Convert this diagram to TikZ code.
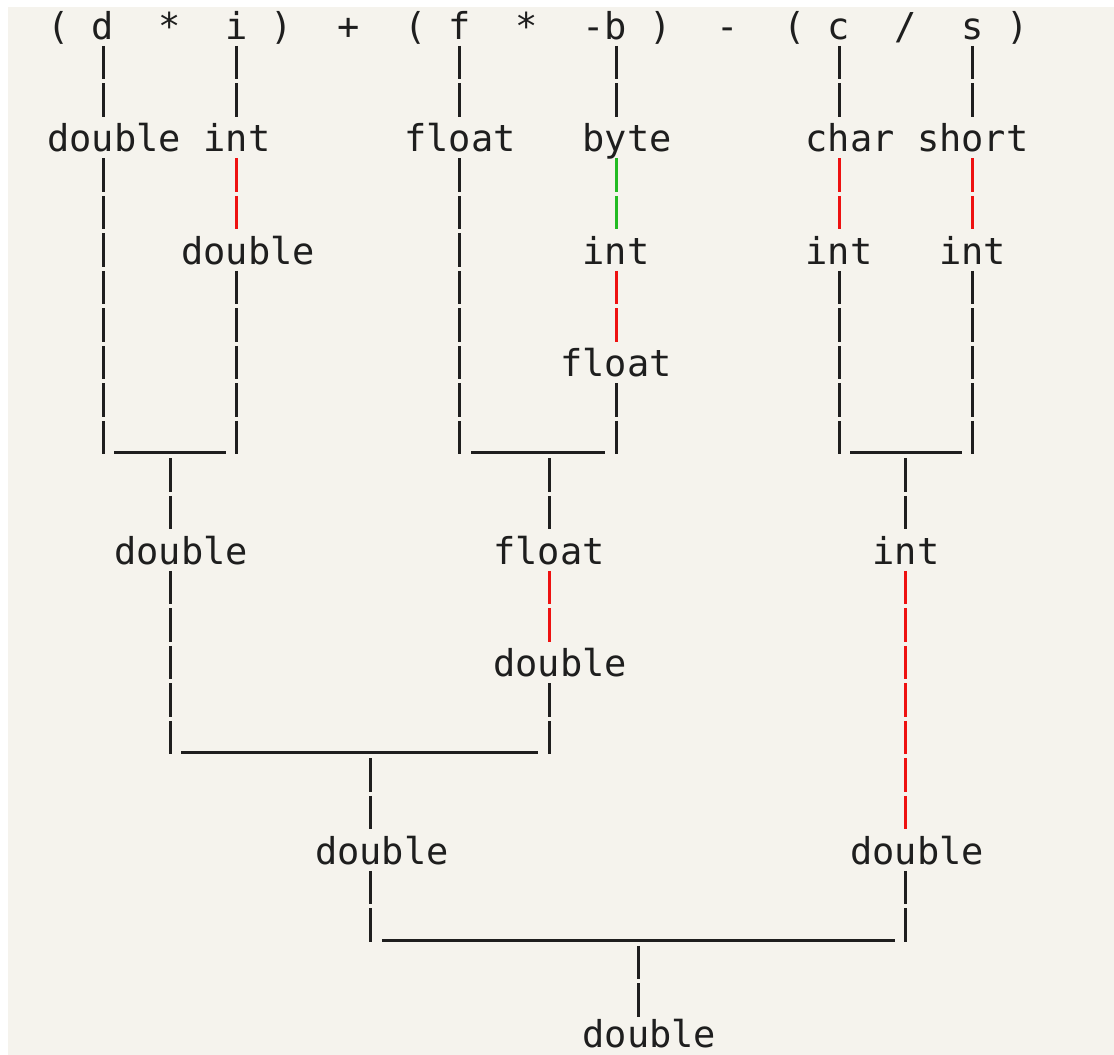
\documentclass[tikz,border=0pt]{standalone}
\usepackage{fontspec}
\usetikzlibrary{calc}
\newfontfamily\ascfont{DejaVu Sans Mono}
\definecolor{bg}{HTML}{F5F3ED}
\definecolor{ink}{HTML}{1E1E1E}
\definecolor{rd}{HTML}{EE1111}
\definecolor{gn}{HTML}{22BB22}
\newcommand\colx[1]{58.5+22.3*(#1)}
\newcommand\rowy[1]{25+37.5*(#1)}
\begin{document}
\begin{tikzpicture}[x=1pt,y=-1pt,
  t/.style={font=\ascfont\fontsize{37}{37}\selectfont, text=ink, inner sep=0pt, text height=32.75pt, text depth=4.75pt},
  pipe/.style={draw=ink, line width=3pt, dash pattern=on 33.5pt off 4pt, dash phase=35.5pt},
  redp/.style={pipe, draw=rd},
  grnp/.style={pipe, draw=gn},
  bar/.style={draw=ink, line width=3pt}]
\useasboundingbox (0,0) rectangle (1114,1055);
\fill[white] (0,0) rectangle (1114,1055);
\fill[bg] (8,7) rectangle (1114,1055);
\foreach \k in {2,5,8,14,18,22,25,26,35,38,41} \coordinate (k\k) at ({\colx{\k}},0);
% row 0: expression
\node[t] (lp1) at ({\colx{0}},{\rowy{0}}) {(};
\node[t] (vd)  at ({\colx{2}},{\rowy{0}}) {d};
\node[t] (st1) at ({\colx{5}},{\rowy{0}}) {*};
\node[t] (vi)  at ({\colx{8}},{\rowy{0}}) {i};
\node[t] (rp1) at ({\colx{10}},{\rowy{0}}) {)};
\node[t] (pl)  at ({\colx{13}},{\rowy{0}}) {+};
\node[t] (lp2) at ({\colx{16}},{\rowy{0}}) {(};
\node[t] (vf)  at ({\colx{18}},{\rowy{0}}) {f};
\node[t] (st2) at ({\colx{21}},{\rowy{0}}) {*};
\node[t] (vb)  at ({\colx{24.5}},{\rowy{0}}) {-b};
\node[t] (rp2) at ({\colx{27}},{\rowy{0}}) {)};
\node[t] (mi)  at ({\colx{30}},{\rowy{0}}) {-};
\node[t] (lp3) at ({\colx{33}},{\rowy{0}}) {(};
\node[t] (vc)  at ({\colx{35}},{\rowy{0}}) {c};
\node[t] (sl)  at ({\colx{38}},{\rowy{0}}) {/};
\node[t] (vs)  at ({\colx{41}},{\rowy{0}}) {s};
\node[t] (rp3) at ({\colx{43}},{\rowy{0}}) {)};
% row 3
\node[t] (t3a) at ({\colx{2.5}},{\rowy{3}}) {double};
\node[t] (t3b) at ({\colx{8}},{\rowy{3}}) {int};
\node[t] (t3c) at ({\colx{18}},{\rowy{3}}) {float};
\node[t] (t3d) at ({\colx{25.5}},{\rowy{3}}) {byte};
\node[t] (t3e) at ({\colx{35.5}},{\rowy{3}}) {char};
\node[t] (t3f) at ({\colx{41}},{\rowy{3}}) {short};
% row 6
\node[t] (t6b) at ({\colx{8.5}},{\rowy{6}}) {double};
\node[t] (t6d) at ({\colx{25}},{\rowy{6}}) {int};
\node[t] (t6e) at ({\colx{35}},{\rowy{6}}) {int};
\node[t] (t6f) at ({\colx{41}},{\rowy{6}}) {int};
% row 9
\node[t] (t9d) at ({\colx{25}},{\rowy{9}}) {float};
% junctions row 11
\coordinate (jA) at ({\colx{5}},{\rowy{11}+18.75});
\coordinate (jB) at ({\colx{22}},{\rowy{11}+18.75});
\coordinate (jC) at ({\colx{38}},{\rowy{11}+18.75});
% row 14
\node[t] (t14a) at ({\colx{5.5}},{\rowy{14}}) {double};
\node[t] (t14b) at ({\colx{22}},{\rowy{14}}) {float};
\node[t] (t14c) at ({\colx{38}},{\rowy{14}}) {int};
% row 17
\node[t] (t17b) at ({\colx{22.5}},{\rowy{17}}) {double};
% junction row 19
\coordinate (jD) at ({\colx{14}},{\rowy{19}+18.75});
% row 22
\node[t] (t22a) at ({\colx{14.5}},{\rowy{22}}) {double};
\node[t] (t22c) at ({\colx{38.5}},{\rowy{22}}) {double};
% junction row 24
\coordinate (jE) at ({\colx{26}},{\rowy{24}+18.75});
% row 27
\node[t, text height=28.25pt, text depth=2pt] (t27) at ({\colx{26.5}},1033.875) {double};
% connectors: expression to first types
\draw[pipe] (vd.south -| k2) -- (t3a.north -| k2);
\draw[pipe] (vi.south -| k8) -- (t3b.north -| k8);
\draw[pipe] (vf.south -| k18) -- (t3c.north -| k18);
\draw[pipe] (vb.south -| k25) -- (t3d.north -| k25);
\draw[pipe] (vc.south -| k35) -- (t3e.north -| k35);
\draw[pipe] (vs.south -| k41) -- (t3f.north -| k41);
% conversions
\draw[redp] (t3b.south -| k8) -- (t6b.north -| k8);
\draw[grnp] (t3d.south -| k25) -- (t6d.north -| k25);
\draw[redp] (t6d.south -| k25) -- (t9d.north -| k25);
\draw[redp] (t3e.south -| k35) -- (t6e.north -| k35);
\draw[redp] (t3f.south -| k41) -- (t6f.north -| k41);
% into first junctions
\draw[pipe] (t3a.south -| k2) -- (jA -| k2);
\draw[pipe] (t6b.south -| k8) -- (jA -| k8);
\draw[pipe] (t3c.south -| k18) -- (jB -| k18);
\draw[pipe] (t9d.south -| k25) -- (jB -| k25);
\draw[pipe] (t6e.south -| k35) -- (jC -| k35);
\draw[pipe] (t6f.south -| k41) -- (jC -| k41);
\draw[bar] ($(jA -| k2)+(11.15,-3.5)$) -- ($(jA -| k8)+(-11.15,-3.5)$);
\draw[bar] ($(jB -| k18)+(11.15,-3.5)$) -- ($(jB -| k25)+(-11.15,-3.5)$);
\draw[bar] ($(jC -| k35)+(11.15,-3.5)$) -- ($(jC -| k41)+(-11.15,-3.5)$);
% out of first junctions
\draw[pipe] (jA) -- (t14a.north -| jA);
\draw[pipe] (jB) -- (t14b.north -| jB);
\draw[pipe] (jC) -- (t14c.north -| jC);
% second level
\draw[redp] (t14b.south -| k22) -- (t17b.north -| k22);
\draw[redp] (t14c.south -| k38) -- (t22c.north -| k38);
\draw[pipe] (t14a.south -| k5) -- (jD -| k5);
\draw[pipe] (t17b.south -| k22) -- (jD -| k22);
\draw[bar] ($(jD -| k5)+(11.15,-3.5)$) -- ($(jD -| k22)+(-11.15,-3.5)$);
\draw[pipe] (jD) -- (t22a.north -| jD);
% third level
\draw[pipe] (t22a.south -| k14) -- (jE -| k14);
\draw[pipe] (t22c.south -| k38) -- (jE -| k38);
\draw[bar] ($(jE -| k14)+(11.15,-3.5)$) -- ($(jE -| k38)+(-11.15,-3.5)$);
\draw[pipe] (jE) -- (t27.north -| jE);
\end{tikzpicture}
\end{document}
